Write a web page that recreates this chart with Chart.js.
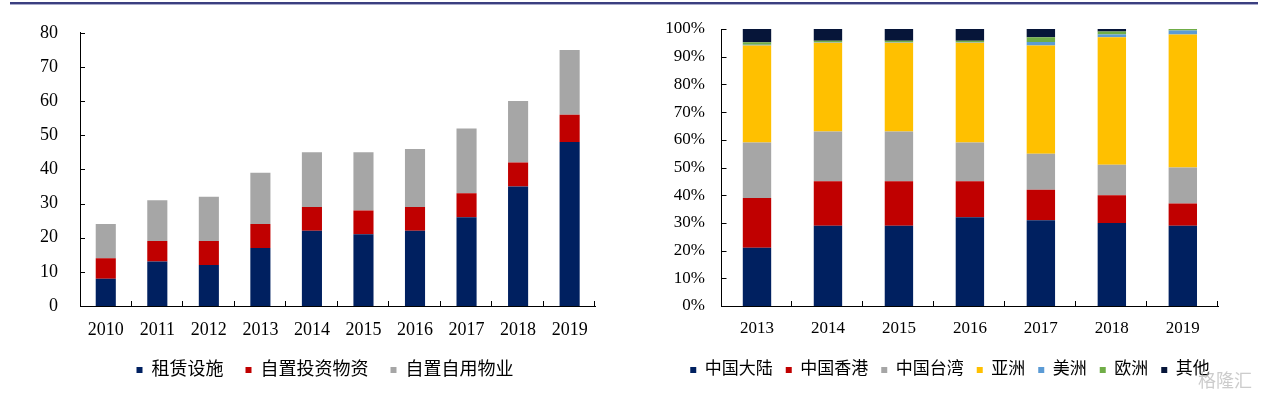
<!DOCTYPE html>
<html>
<head>
<meta charset="utf-8">
<script src="https://cdn.jsdelivr.net/npm/chart.js@4.4.1/dist/chart.umd.min.js"></script>
<style>
  html, body { margin: 0; padding: 0; background: #fff; }
  body { width: 1269px; height: 395px; position: relative; overflow: hidden; }
  #topLine { position: absolute; left: 10px; top: 2px; width: 1248px; height: 2px; background: #3b3f80; border-bottom: 1px solid #a9abcb; }
  #c1 { position: absolute; left: 0; top: 0; }
  #c2 { position: absolute; left: 650px; top: 0; }
  #mark { position: absolute; left: 1198px; top: 366px; font: 18px "Noto Sans CJK SC"; color: rgba(170,170,170,0.6); }
</style>
</head>
<body>
<div id="topLine"></div>
<canvas id="c1" width="650" height="395"></canvas>
<canvas id="c2" width="619" height="395"></canvas>
<div id="mark">格隆汇</div>
<script>
// left chart: 物业组合 (万平方米)
const years1 = ['2010', '2011', '2012', '2013', '2014', '2015', '2016', '2017', '2018', '2019'];
const leased = [8, 13, 12, 17, 22, 21, 22, 26, 35, 48];        // 租赁设施
const ownInvest = [6, 6, 7, 7, 7, 7, 7, 7, 7, 8];             // 自置投资物资
const ownUse = [10, 12, 13, 15, 16, 17, 17, 19, 18, 19];      // 自置自用物业
const yTicks1 = { min: 0, max: 80, step: 10 };

// right chart: 收入地区分布 (%)
const years2 = ['2013', '2014', '2015', '2016', '2017', '2018', '2019'];
const mainland = [21, 29, 29, 32, 31, 30, 29];
const hongkong = [18, 16, 16, 13, 11, 10, 8];
const taiwan = [20, 18, 18, 14, 13, 11, 13];
const asia = [35, 32, 32, 36, 39, 46, 48];
const america = [0.3, 0.2, 0.2, 0.2, 1.3, 1.0, 1.5];
const europe = [0.9, 0.6, 0.6, 0.6, 1.7, 1.1, 0.5];
const other = [4.8, 4.2, 4.2, 4.2, 3.0, 0.9, 0];
const yTicks2 = { min: 0, max: 100, step: 10 };

const serif = '"Liberation Serif", "Times New Roman", serif';
const cjk = '"Liberation Serif", "Noto Sans CJK SC", sans-serif';

// tick marks pointing into the plot, like the excel original
const innerTicks = {
    id: 'innerTicks',
    afterDraw(chart) {
        const { ctx, scales: { x, y } } = chart;
        ctx.save();
        ctx.strokeStyle = '#000';
        ctx.lineWidth = 1;
        ctx.beginPath();
        y.ticks.forEach(t => {
            const py = Math.round(y.getPixelForValue(t.value)) + 0.5;
            ctx.moveTo(x.left, py);
            ctx.lineTo(x.left + 5, py);
        });
        const n = x.ticks.length;
        for (let i = 1; i <= n; i++) {
            const px = i < n ? (x.getPixelForValue(i - 1) + x.getPixelForValue(i)) / 2 : x.right;
            const rx = Math.round(px) - 0.5;
            ctx.moveTo(rx, y.bottom);
            ctx.lineTo(rx, y.bottom - 5);
        }
        ctx.stroke();
        ctx.restore();
    }
};

function bar(label, data, color, pct) {
    return { label, data, backgroundColor: color, borderWidth: 0, barPercentage: pct, categoryPercentage: 1 };
}

function makeChart(id, labels, datasets, cfg) {
    return new Chart(document.getElementById(id), {
        type: 'bar',
        data: { labels, datasets },
        plugins: [innerTicks],
        options: {
            responsive: false,
            animation: false,
            layout: { padding: { top: 29, right: cfg.padRight, bottom: cfg.padBottom, left: 0 } },
            plugins: {
                tooltip: { enabled: false },
                legend: {
                    position: 'bottom',
                    labels: {
                        boxWidth: 6, boxHeight: 6, padding: cfg.legendPad, color: '#000',
                        font: { family: cjk, size: cfg.legendSize }
                    }
                }
            },
            scales: {
                x: {
                    stacked: true,
                    offset: true,
                    grid: { display: false, drawTicks: false },
                    border: { display: true, color: '#000', width: 1 },
                    ticks: { color: '#000', font: { family: serif, size: cfg.xSize }, padding: cfg.xPad, maxRotation: 0, autoSkip: false },
                    afterFit: s => { s.height = cfg.xHeight; }
                },
                y: {
                    stacked: true,
                    min: cfg.yt.min, max: cfg.yt.max,
                    grid: { display: false, drawTicks: false },
                    border: { display: true, color: '#000', width: 1 },
                    ticks: { stepSize: cfg.yt.step, color: '#000', font: { family: serif, size: cfg.ySize }, padding: cfg.yPad, callback: cfg.yFmt },
                    afterFit: s => { s.width = cfg.yWidth; }
                },
                pad: {
                    position: 'right',
                    display: true,
                    grid: { display: false, drawTicks: false },
                    border: { display: false },
                    ticks: { display: false },
                    afterFit: s => { s.width = cfg.rightGap; }
                }
            }
        }
    });
}

makeChart('c1', years1, [
    bar('租赁设施', leased, '#002060', 0.39),
    bar('自置投资物资', ownInvest, '#C00000', 0.39),
    bar('自置自用物业', ownUse, '#A6A6A6', 0.39)
], {
    yt: yTicks1, yFmt: v => v, yWidth: 80, yPad: 22, ySize: 18,
    xSize: 18, xPad: 13, xHeight: 33,
    legendSize: 18, legendPad: 22, padBottom: 6, padRight: 0, rightGap: 54.6
});

makeChart('c2', years2, [
    bar('中国大陆', mainland, '#002060', 0.4),
    bar('中国香港', hongkong, '#C00000', 0.4),
    bar('中国台湾', taiwan, '#A6A6A6', 0.4),
    bar('亚洲', asia, '#FFC000', 0.4),
    bar('美洲', america, '#5B9BD5', 0.4),
    bar('欧洲', europe, '#70AD47', 0.4),
    bar('其他', other, '#061539', 0.4)
], {
    yt: yTicks2, yFmt: v => v + '%', yWidth: 71.5, yPad: 16.5, ySize: 17,
    xSize: 17, xPad: 12, xHeight: 42.5,
    legendSize: 17, legendPad: 13, padBottom: 6.5, padRight: 19, rightGap: 31.7
});
</script>
</body>
</html>
